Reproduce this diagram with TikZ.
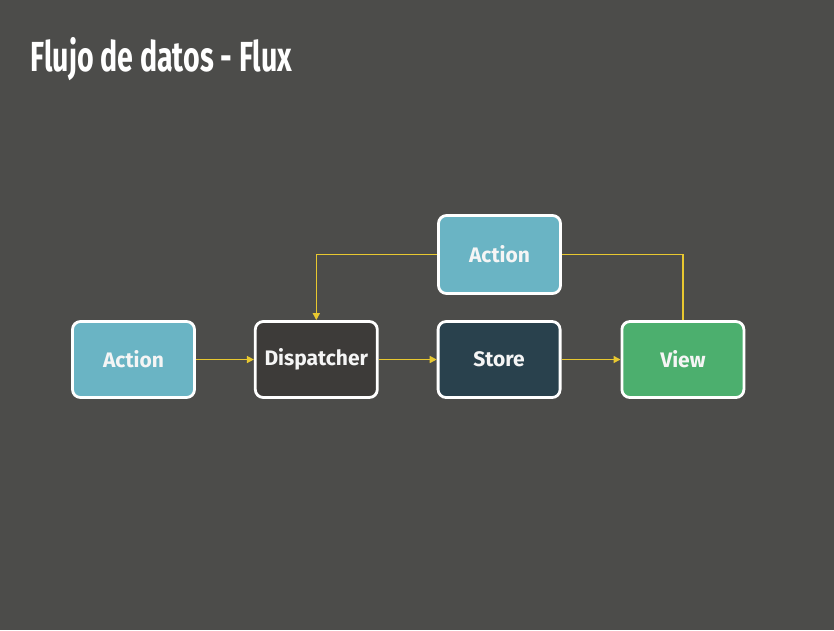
\documentclass[tikz,border=0pt]{standalone}
\usepackage{fontspec}
\setmainfont{Fira Sans}
\newfontfamily\titlefont[FakeStretch=0.68]{Fira Sans}
\usetikzlibrary{positioning,arrows.meta}
\definecolor{fondo}{HTML}{4C4C4A}
\definecolor{azul}{HTML}{6AB4C4}
\definecolor{gris}{HTML}{3D3B39}
\definecolor{petroleo}{HTML}{29414D}
\definecolor{verde}{HTML}{4CAF6E}
\definecolor{amarillo}{HTML}{E8C830}
\tikzset{
  caja/.style={draw=white, line width=2.8pt, rounded corners=8pt, minimum width=122pt,
    minimum height=76pt, text=white!92!gray, font=\bfseries\fontsize{21}{24}\selectfont},
  flujo/.style={draw=amarillo, line width=1.5pt, -{Triangle[length=7pt,width=7pt]}}
}
\begin{document}
\begin{tikzpicture}[x=1pt,y=-1pt]
	% fondo
	\fill[fondo] (0,0) rectangle (834,630);
	\useasboundingbox (0,0) rectangle (834,630);
	
	% titulo
	\node[anchor=west, text=white, font=\titlefont\bfseries\fontsize{42}{44}\selectfont] (titulo) at (27,59) {Flujo de datos - Flux};
	
	% cajas
	\node[caja, fill=azul] (accion) at (133.5,359.5) {Action};
	\node[caja, fill=gris, right=58pt of accion] (despachador) {Dispatcher};
	\node[caja, fill=petroleo, right=58pt of despachador] (almacen) {Store};
	\node[caja, fill=verde, right=59pt of almacen] (vista) {View};
	\node[caja, fill=azul, minimum height=78pt] (accion2) at (499.5,254.5) {Action};
	
	% flechas
	\draw[flujo] (accion) -- (despachador);
	\draw[flujo] (despachador) -- (almacen);
	\draw[flujo] (almacen) -- (vista);
	\draw[flujo] (accion2.west) -| (despachador.north);
	\draw[flujo, -] (vista.north) |- (accion2.east);
\end{tikzpicture}
\end{document}
